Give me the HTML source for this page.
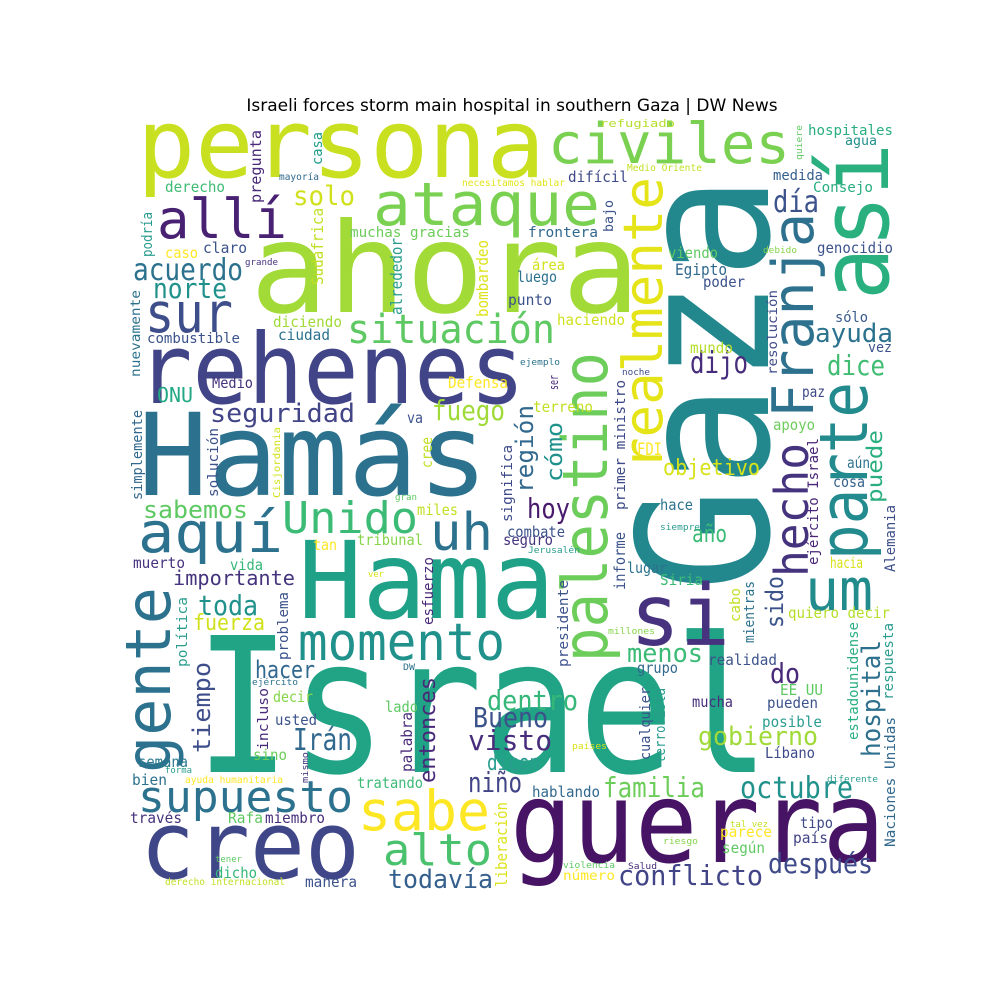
<!DOCTYPE html>
<html><head><meta charset="utf-8"><title>Word cloud</title>
<style>
html,body{margin:0;padding:0;background:#fff;}
svg{display:block;}
text.w{font-family:"DejaVu Sans Mono","Liberation Mono",monospace;}
</style></head>
<body>
<svg id="cloud" width="1000" height="1000" viewBox="0 0 1000 1000" xmlns="http://www.w3.org/2000/svg">
<rect x="0" y="0" width="1000" height="1000" fill="#fff"/>
<text x="512" y="111" text-anchor="middle" font-family="DejaVu Sans, Liberation Sans, sans-serif" font-size="17" fill="#000">Israeli forces storm main hospital in southern Gaza | DW News</text>
<g id="words"></g>
</svg>
<script>
// [word, x, y, fontSize, length, color, vertical]
// horizontal: x = left, y = baseline ; vertical: x = baseline x, y = bottom start
const words = [
["persona",137,177,95,408,"#c8e020",0],
["ahora",250,312,125,390,"#a2da37",0],
["rehenes",137,403,97,388,"#414487",0],
["Hamás",138,495,114,350,"#2c728e",0],
["Hama",298,618,107,257,"#1fa187",0],
["Israel",195,772,188,575,"#21a385",0],
["Gaza",768,592,182,417,"#23888e",1],
["guerra",510,862,112,375,"#471365",0],
["creo",140,878,94,220,"#3f4788",0],
["sabe",358,830,55,132,"#fde725",0],
["civiles",548,163,56,242,"#7ad151",0],
["ataque",373,225,60,227,"#7ad151",0],
["allí",157,238,54,130,"#482173",0],
["así",888,300,95,157,"#2ab07f",1],
["Franja",813,418,57,205,"#2d718e",1],
["parte",867,560,67,178,"#238a8d",1],
["um",805,610,58,68,"#228c8d",0],
["hecho",808,577,46,134,"#46337e",1],
["realmente",662,470,54,293,"#e5e419",1],
["palestino",607,662,62,310,"#6ccd5a",1],
["si",630,645,85,100,"#46327e",0],
["momento",298,660,52,207,"#21918c",0],
["gente",170,773,62,186,"#2c728e",1],
["supuesto",138,812,44,215,"#2c728e",0],
["alto",383,865,44,109,"#4ac16d",0],
["aquí",138,552,56,145,"#2c728e",0],
["uh",430,550,52,63,"#2c728e",0],
["Unido",282,533,44,136,"#3bbb75",0],
["sur",145,332,55,88,"#3d4e8a",0],
["situación",347,343,40,208,"#5ec962",0],
["acuerdo",133,280,30,110,"#2c728e",0],
["norte",153,298,28,74,"#21918c",0],
["solo",293,205,27,62,"#d0e11c",0],
["seguridad",210,422,26,145,"#414487",0],
["fuego",432,420,28,73,"#a0da39",0],
["sabemos",143,518,24,105,"#5ec962",0],
["importante",173,585,20,122,"#46337e",0],
["toda",198,615,28,60,"#21918c",0],
["fuerza",193,630,22,72,"#d0e11c",0],
["tiempo",210,753,24,91,"#3d4e8a",1],
["hacer",255,678,24,60,"#31688e",0],
["Irán",293,750,30,59,"#31688e",0],
["entonces",435,783,22,106,"#482878",1],
["Bueno",473,727,28,75,"#3b528b",0],
["dentro",487,710,28,91,"#35b779",0],
["visto",468,750,28,84,"#472d7b",0],
["dicen",487,770,22,53,"#2a9d8f",0],
["niño",468,792,28,54,"#414487",0],
["todavía",388,888,26,105,"#35608d",0],
["liberación",507,887,16,85,"#dde318",1],
["familia",603,797,28,102,"#6ccd5a",0],
["octubre",740,798,30,113,"#21918c",0],
["conflicto",618,885,28,145,"#414487",0],
["después",768,873,28,105,"#3e4a89",0],
["gobierno",698,745,26,120,"#a0da39",0],
["hospital",880,757,26,117,"#2d708e",1],
["menos",627,662,26,76,"#3bbb75",0],
["do",770,683,28,30,"#482878",0],
["hoy",527,518,28,43,"#481a6c",0],
["año",692,542,24,35,"#3bbb75",0],
["objetivo",663,475,22,97,"#d8e219",0],
["FDI",637,455,17,25,"#fde725",0],
["dijo",690,373,30,58,"#472d7b",0],
["ayuda",815,342,26,78,"#2c728e",0],
["dice",827,375,28,58,"#40bd72",0],
["día",773,212,30,46,"#3b528b",0],
["región",533,493,24,88,"#31688e",1],
["cómo",562,482,22,60,"#21918c",1],
["puede",882,503,21,73,"#29af7f",1],
["sido",783,628,24,52,"#3b528b",1],
["hospitales",808,135,14,85,"#29af7f",0],
["agua",845,145,13,32,"#21918c",0],
["refugiado",600,127,11,75,"#b5de2b",0],
["quiere",802,160,9,35,"#5ec962",1],
["difícil",568,182,15,60,"#3e4a89",0],
["Medio Oriente",627,171,10,75,"#c2df23",0],
["medida",773,180,14,50,"#35608d",0],
["Consejo",813,192,14,60,"#27ad81",0],
["frontera",528,237,14,70,"#31688e",0],
["bajo",613,232,13,32,"#3b528b",1],
["área",532,270,15,33,"#d2e21b",0],
["viendo",668,258,15,50,"#5ec962",0],
["debido",763,253,9,34,"#86d549",0],
["genocidio",817,253,15,76,"#3b528b",0],
["luego",517,282,15,40,"#2c728e",0],
["Egipto",675,275,16,52,"#31688e",0],
["poder",703,287,15,42,"#3b528b",0],
["punto",508,305,15,44,"#3b528b",0],
["haciendo",557,325,15,68,"#d0e11c",0],
["mundo",690,353,15,43,"#b5de2b",0],
["ejemplo",520,365,9,40,"#2c728e",0],
["noche",622,375,9,28,"#3e4a89",0],
["ser",558,390,12,15,"#482878",1],
["terreno",533,412,15,60,"#c2df23",0],
["significa",512,522,14,77,"#3e4a89",1],
["primer ministro",625,510,14,130,"#3e4a89",1],
["resolución",777,375,13,85,"#3e4a89",1],
["sólo",835,322,14,33,"#38598c",0],
["vez",868,352,14,24,"#3b528b",0],
["paz",802,397,15,23,"#3e4989",0],
["apoyo",773,430,15,42,"#6ccd5a",0],
["ejército Israel",818,565,14,127,"#482576",1],
["aún",847,468,15,23,"#2c728e",0],
["cosa",833,487,15,32,"#33638d",0],
["Alemania",895,572,14,67,"#3d4e8a",1],
["hacia",830,568,15,33,"#d8e219",0],
["quiero decir",788,618,15,102,"#b5de2b",0],
["mientras",754,643,14,62,"#2c728e",1],
["caso",165,258,15,33,"#fde725",0],
["claro",203,253,15,44,"#3b528b",0],
["grande",245,265,9,33,"#46337e",0],
["podría",152,257,14,45,"#2a9d8f",1],
["derecho",165,192,15,60,"#3fbc73",0],
["pregunta",261,203,15,73,"#482878",1],
["casa",322,165,14,33,"#1f9e89",1],
["mayoría",279,180,10,40,"#31688e",0],
["necesitamos hablar",462,186,10,103,"#e2e418",0],
["Sudáfrica",323,285,16,77,"#c2df23",1],
["alrededor",402,315,16,77,"#2a9d8f",1],
["bombardeo",488,317,16,77,"#dde318",1],
["muchas gracias",350,237,14,120,"#6ccd5a",0],
["diciendo",273,327,15,69,"#a0da39",0],
["ciudad",278,340,15,52,"#2c728e",0],
["combustible",147,343,14,93,"#3b528b",0],
["nuevamente",140,377,13,87,"#2c728e",1],
["Medio",212,388,15,41,"#46337e",0],
["ONU",157,402,20,36,"#22a884",0],
["Defensa",448,388,16,60,"#fde725",0],
["va",407,423,15,16,"#3b528b",0],
["simplemente",142,500,14,90,"#31688e",1],
["solución",218,497,14,69,"#3b528b",1],
["Cisjordania",280,498,10,71,"#d2e21b",1],
["cree",432,468,15,31,"#c2df23",1],
["miles",417,515,15,41,"#c2df23",0],
["gran",395,500,9,22,"#5ec962",0],
["tan",313,550,15,24,"#fde725",0],
["tribunal",357,545,15,66,"#86d549",0],
["muerto",133,568,15,52,"#46337e",0],
["vida",230,570,15,33,"#35b779",0],
["ver",368,577,9,16,"#d8e219",0],
["política",187,667,14,70,"#2a9d8f",1],
["problema",288,660,14,68,"#3b528b",1],
["esfuerzo",433,625,14,68,"#482878",1],
["DW",403,670,9,12,"#2c728e",0],
["ejército",252,685,9,46,"#2c728e",0],
["decir",273,702,15,40,"#86d549",0],
["incluso",268,750,14,62,"#482878",1],
["lado",385,712,15,33,"#5ec962",0],
["usted",275,725,15,42,"#3b528b",0],
["palabra",412,772,15,60,"#482878",1],
["sino",253,760,15,34,"#6ccd5a",0],
["mismo",308,783,9,31,"#46337e",1],
["semana",138,767,15,50,"#2a788e",0],
["forma",165,773,9,27,"#2a9d8f",0],
["bien",132,785,15,35,"#2c728e",0],
["ayuda humanitaria",185,783,10,98,"#fde725",0],
["tratando",357,788,15,66,"#3bbb75",0],
["través",130,823,15,52,"#46337e",0],
["Rafa",228,823,15,35,"#5ec962",0],
["miembro",265,823,15,60,"#472d7b",0],
["tener",215,862,9,27,"#5ec962",0],
["dicho",215,878,15,42,"#35b779",0],
["derecho internacional",165,885,10,120,"#c2df23",0],
["manera",305,887,15,52,"#3b528b",0],
["combate",507,537,15,58,"#3b528b",0],
["seguro",503,545,15,50,"#46337e",0],
["Jerusalén",528,553,9,52,"#2a9d8f",0],
["hace",660,510,15,33,"#2c728e",0],
["siempre",660,530,9,40,"#2a9d8f",0],
["informe",625,590,15,58,"#3b528b",1],
["lugar",627,573,15,40,"#2c728e",0],
["Siria",660,585,15,43,"#3bbb75",0],
["cabo",740,622,14,34,"#c2df23",1],
["presidente",568,667,14,87,"#3b528b",1],
["millones",608,634,9,47,"#86d549",0],
["realidad",708,665,15,69,"#3b528b",0],
["grupo",637,673,15,41,"#31688e",0],
["estadounidense",858,740,14,118,"#29af7f",1],
["respuesta",893,700,14,77,"#2a9d8f",1],
["EE UU",780,695,15,43,"#5ec962",0],
["mucha",692,707,15,41,"#472d7b",0],
["pueden",767,708,15,51,"#3b528b",0],
["cualquier",650,760,14,73,"#3b528b",1],
["terrorista",665,763,14,75,"#2a9d8f",1],
["posible",762,727,15,60,"#2a9d8f",0],
["países",572,749,9,35,"#d8e219",0],
["Líbano",765,758,15,50,"#3e4a89",0],
["Naciones Unidas",895,847,14,130,"#31688e",1],
["diferente",827,782,9,51,"#2a9d8f",0],
["hablando",532,797,15,68,"#31688e",0],
["tal vez",730,827,9,38,"#c2df23",0],
["tipo",800,828,15,33,"#3e4a89",0],
["parece",720,837,15,52,"#fde725",0],
["riesgo",663,844,9,35,"#86d549",0],
["país",793,843,15,35,"#414487",0],
["según",722,853,15,43,"#5ec962",0],
["violencia",563,868,9,52,"#5ec962",0],
["Salud",628,869,9,29,"#472d7b",0],
["número",563,880,13,52,"#fde725",0]
];

const layer = document.getElementById('words');
const NS = 'http://www.w3.org/2000/svg';
words.forEach(function (w, i) {
  const el = document.createElementNS(NS, 'text');
  el.setAttribute('class', 'w');
  el.setAttribute('font-size', w[3]);
  el.setAttribute('fill', w[5]);
  el.setAttribute('textLength', w[4]);
  el.setAttribute('lengthAdjust', 'spacingAndGlyphs');
  if (w[6]) {
    el.setAttribute('x', 0);
    el.setAttribute('y', 0);
    el.setAttribute('transform', 'translate(' + w[1] + ',' + w[2] + ') rotate(-90)');
  } else {
    el.setAttribute('x', w[1]);
    el.setAttribute('y', w[2]);
  }
  el.textContent = w[0];
  
  
  layer.appendChild(el);
});
</script>
</body></html>
